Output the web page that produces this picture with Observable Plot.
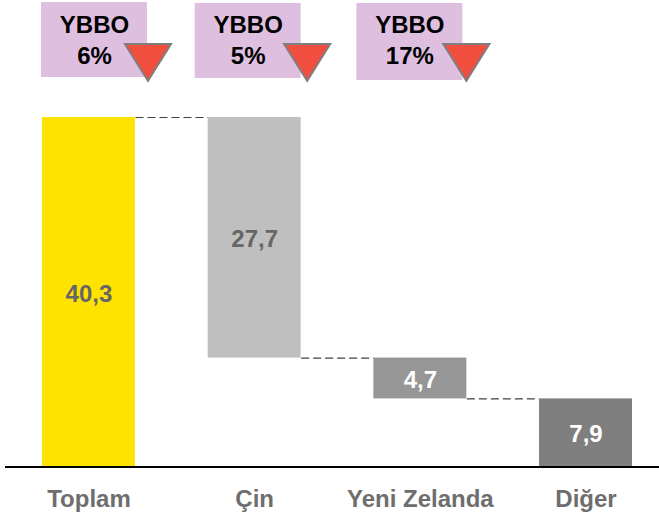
<!DOCTYPE html>
<html><head><meta charset="utf-8">
<script src="https://cdn.jsdelivr.net/npm/d3@7"></script>
<script src="https://cdn.jsdelivr.net/npm/@observablehq/plot@0.6"></script>
<style>html,body{margin:0;padding:0;background:#fff}svg{display:block}</style>
</head><body><div id="c"></div>
<script>
const categories = ["Toplam","Çin","Yeni Zelanda","Diğer"];
const values = [40.3,27.7,4.7,7.9];
const valueLabels = ["40,3","27,7","4,7","7,9"];
const ybboLabels = ["6%","5%","17%"];
const barFills = ["#FFE300","#BFBFBF","#969696","#7F7F7F"];
const labelFills = ["#666666","#666666","#FFFFFF","#FFFFFF"];

// waterfall levels
const tops = [40.3,40.3,12.6,7.9];
const rows = categories.map((c,i)=>({c,v:values[i],top:tops[i],bottom:tops[i]-values[i],mid:tops[i]-values[i]/2,label:valueLabels[i],fill:barFills[i],lf:labelFills[i]}));
const links = [0,1,2].map(i=>({a:categories[i],b:categories[i+1],y:rows[i].bottom===0?rows[i].top:rows[i].bottom}));

// callout placement relative to each bar (style only, px)
const callouts = [
  {insetLeft:-1,insetRight:-12,insetTop:-115,insetBottom:40,dxText:5.5,dxTri:59},
  {insetLeft:-13,insetRight:0,insetTop:-114,insetBottom:39,dxText:-6.5,dxTri:52.5},
  {insetLeft:-17,insetRight:4,insetTop:-114,insetBottom:37,dxText:-10.5,dxTri:46}
];
const downTriangle = {draw(ctx,size){const w=Math.sqrt(size);ctx.moveTo(-w,-w*0.8);ctx.lineTo(w,-w*0.8);ctx.lineTo(0,w*0.8);ctx.closePath();}};

const font = {fontFamily:"'Liberation Sans',Arial,sans-serif",fontWeight:"bold",fontSize:24};
// connector dashes start at the bar's right edge and stop at the next bar's left edge
const dash = "0 46.5 8 4 8 4 8 4 8 4 8 4 8 4 0.7 300";

const marks = [
  Plot.link(links,{x1:"a",x2:"b",y1:"y",y2:"y",stroke:"#404040",strokeWidth:1.2,strokeDasharray:dash}),
  Plot.barY(rows,{x:"c",y1:"bottom",y2:"top",fill:d=>d.fill}),
  Plot.text(rows,{x:"c",y:"mid",text:"label",fill:d=>d.lf,dy:1.5,...font}),
  Plot.ruleY([0],{stroke:"#000",strokeWidth:2,dy:-0.5}),
  Plot.axisX({tickSize:0,tickPadding:22,stroke:"none",fill:"#6E6E6E",...font,label:null})
];
callouts.forEach((k,i)=>{
  const d=[rows[i]];
  marks.push(
    Plot.barY(d,{x:"c",y1:()=>tops[0],y2:()=>tops[0],fill:"#DFBFDF",insetLeft:k.insetLeft,insetRight:k.insetRight,insetTop:k.insetTop,insetBottom:k.insetBottom}),
    Plot.text(d,{x:"c",y:()=>tops[0],text:()=>"YBBO",dx:k.dxText,dy:-92,fill:"#000",...font}),
    Plot.text(d,{x:"c",y:()=>tops[0],text:()=>ybboLabels[i],dx:k.dxText,dy:-61,fill:"#000",...font}),
    Plot.dot(d,{x:"c",y:()=>tops[0],dx:k.dxTri,dy:-55,r:13,symbol:downTriangle,fill:"#F04E3E",stroke:"#7F7F7F",strokeWidth:2})
  );
});

const chart = Plot.plot({
  width:659,height:514,marginTop:0,marginBottom:47,marginLeft:5,marginRight:0,
  style:{background:"#fff"},
  x:{type:"band",domain:categories,range:[42,632],paddingInner:0.439,paddingOuter:0,round:false,label:null},
  y:{domain:[0,40.3],range:[467,117],axis:null,label:null},
  marks
});
document.getElementById("c").append(chart);
</script></body></html>
